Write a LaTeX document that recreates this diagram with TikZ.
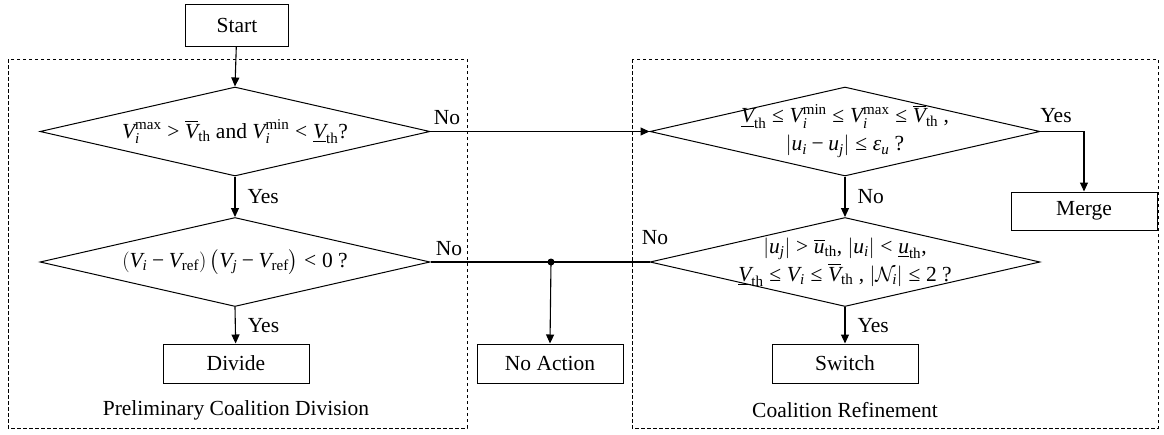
\documentclass[tikz,border=0pt]{standalone}
\usepackage{amsmath}
\usepackage{fontspec}
\setmainfont{Liberation Serif}
\usetikzlibrary{shapes.geometric,arrows.meta}
\newcommand{\iv}[1]{\text{\itshape #1}}
\newcommand{\rmt}[1]{\text{\upshape #1}}
\newcommand{\lle}{\mathrel{\text{\upshape ≤}}}
\newcommand{\llt}{\mathrel{\text{\upshape <}}}
\newcommand{\lgt}{\mathrel{\text{\upshape >}}}
\newcommand{\lmin}{\mathbin{\text{\upshape −}}}
\begin{document}
\begin{tikzpicture}[x=1pt,y=-1pt,
  every node/.style={font=\fontsize{21.5}{25}\selectfont},
  box/.style={draw,line width=1pt,minimum width=146pt,minimum height=39pt,inner sep=0pt},
  dia/.style={draw,line width=1pt,diamond,aspect=4.38,minimum width=390pt,minimum height=89pt,inner xsep=-30pt,inner ysep=-12pt},
  region/.style={draw,line width=0.8pt,dash pattern=on 3.5pt off 2.5pt},
  conn/.style={line width=1.1pt},
  arr/.style={line width=1.1pt,-{Triangle[length=9pt,width=8pt]}},
  lbl/.style={inner sep=0pt}]
\useasboundingbox (0,0) rectangle (1164,434);
\draw[region] (8,59) rectangle (467,428);
\draw[region] (632,59) rectangle (1158,428);

\node[box,minimum width=103pt,minimum height=42pt] (start) at (237,25) {Start};
\node[dia] (d1) at (235,131.5) {$\iv{V}_{\iv{i}}^{\rmt{max}} \lgt \overline{\iv{V}}_{\rmt{th}}$ and $\iv{V}_{\iv{i}}^{\rmt{min}} \llt \underline{\iv{V}}_{\rmt{th}}$?};
\node[dia] (d2) at (235,262) {$\left(\iv{V}_{\iv{i}} \lmin \iv{V}_{\rmt{ref}}\right)\left(\iv{V}_{\iv{j}} \lmin \iv{V}_{\rmt{ref}}\right) \llt \rmt{0}$ ?};
\node[box] (divide) at (236,363.5) {Divide};
\node[box] (noact) at (550,363.5) {No Action};
\node[dia] (d3) at (845,131.5) {\raisebox{-4pt}{\begin{tabular}{@{}c@{}}$\underline{\iv{V}}_{\rmt{th}} \lle \iv{V}_{\iv{i}}^{\rmt{min}} \lle \iv{V}_{\iv{i}}^{\rmt{max}} \lle \overline{\iv{V}}_{\rmt{th}}$ ,\\[3pt] $\left|\iv{u}_{\iv{i}} \lmin \iv{u}_{\iv{j}}\right| \lle \iv{ε}_{\iv{u}}$ ?\end{tabular}}};
\node[dia,align=center] (d4) at (845,262) {$\left|\iv{u}_{\iv{j}}\right| \lgt \overline{\iv{u}}_{\rmt{th}}$, $\left|\iv{u}_{\iv{i}}\right| \llt \underline{\iv{u}}_{\rmt{th}}$,\\[3pt] $\underline{\iv{V}}_{\rmt{th}} \lle \iv{V}_{\iv{i}} \lle \overline{\iv{V}}_{\rmt{th}}$ , $|\mathcal{N}_{\iv{i}}| \lle \rmt{2}$ ?};
\node[box,minimum height=38pt] (merge) at (1084,211) {Merge};
\node[box] (switch) at (845,363.5) {Switch};
\node[lbl] (t1) at (236,410) {Preliminary Coalition Division};
\node[lbl] (t2) at (845,410) {Coalition Refinement};

\coordinate (junc) at (551,262);
\coordinate (mc) at (1084,131.5);

\draw[arr] (start) -- (d1.north);
\draw[arr] (d1.south) -- node[right,lbl,xshift=12pt] {Yes} (d2.north);
\draw[arr] (d2.south) -- node[right,lbl,xshift=12pt] {Yes} (divide);
\draw[arr] (d1.east) -- (d3.west);
\draw[arr] (d3.south) -- node[right,lbl,xshift=12pt] {No} (d4.north);
\draw[arr] (d4.south) -- node[right,lbl,xshift=12pt] {Yes} (switch);
\draw[arr] (d3.east) -- (mc) -- (merge.north);
\draw[conn] (d2.east) -- (junc);
\draw[conn] (d4.west) -- (junc);
\draw[arr] (junc) -- (noact.north);
\fill (junc) circle (3.5pt);

\node[lbl] (n1) at (447,118) {No};
\node[lbl] (n2) at (449,249) {No};
\node[lbl] (n3) at (655,238) {No};
\node[lbl] (y3) at (1056,116) {Yes};
\end{tikzpicture}
\end{document}
